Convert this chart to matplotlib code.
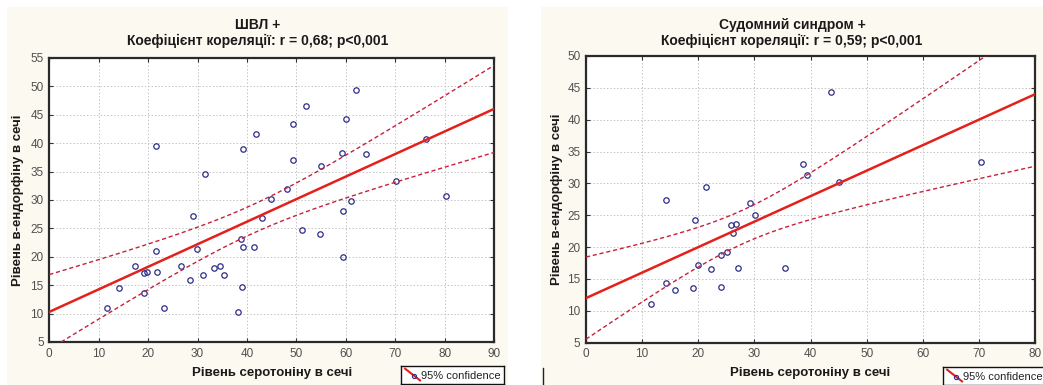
import numpy as np
import matplotlib
matplotlib.use("Agg")
import matplotlib.pyplot as plt
from matplotlib.patches import Rectangle
from matplotlib.lines import Line2D

plt.rcParams['font.family'] = ['Liberation Sans', 'DejaVu Sans']

# ШВЛ + : serotonin (x) vs beta-endorphin (y)
left_x = [21.6, 31.6, 39.3, 41.8, 49.3, 52.0, 49.3, 54.9, 60.0, 62.0, 59.3, 64.0,
          76.2, 48.2, 44.9, 80.3, 70.1, 61.0, 59.5, 51.1, 54.7, 59.5, 43.1, 29.1,
          29.8, 38.7, 39.3, 41.4, 21.6, 17.3, 19.2, 19.8, 21.8, 26.7, 28.5, 31.2,
          33.4, 34.5, 35.4, 39.1, 38.2, 14.2, 19.2, 11.6, 23.3]
left_y = [39.5, 34.5, 39.0, 41.6, 43.3, 46.6, 37.0, 36.0, 44.3, 49.4, 38.3, 38.1,
          40.7, 31.9, 30.2, 30.7, 33.4, 29.8, 28.0, 24.7, 24.1, 20.0, 26.8, 27.2,
          21.4, 23.2, 21.8, 21.8, 21.0, 18.3, 17.2, 17.3, 17.3, 18.3, 16.0, 16.8,
          18.1, 18.3, 16.8, 14.6, 10.2, 14.5, 13.6, 10.9, 10.9]

# Судомний синдром +
right_x = [43.6, 38.7, 39.3, 45.0, 70.3, 21.4, 14.3, 19.5, 29.2, 30.2, 25.8, 26.8,
           26.2, 19.9, 24.1, 25.1, 22.3, 27.0, 35.5, 14.3, 15.9, 19.1, 24.1, 11.6]
right_y = [44.4, 33.1, 31.3, 30.2, 33.3, 29.4, 27.4, 24.2, 27.0, 25.1, 23.4, 23.7,
           22.2, 17.2, 18.7, 19.3, 16.6, 16.8, 16.8, 14.3, 13.2, 13.6, 13.8, 11.0]

# regression lines as printed on the chart (intercept, slope)
left_fit = (10.3, 0.397)
right_fit = (12.0, 0.40)

titles = ["ШВЛ +\nКоефіцієнт кореляції: r = 0,68; p<0,001",
          "Судомний синдром +\nКоефіцієнт кореляції: r = 0,59; p<0,001"]
xlabel = "Рівень серотоніну в сечі"
ylabel = "Рівень в-ендорфіну в сечі"

W, H = 1043, 385
fig = plt.figure(figsize=(W / 100, H / 100), dpi=100)
fig.patch.set_facecolor('white')

def px(x0, y0, x1, y1):
    # pixel box (top-left origin) -> figure fraction rect
    return [x0 / W, 1 - y1 / H, (x1 - x0) / W, (y1 - y0) / H]

cream = '#fcf9f0'
fig.patches.append(Rectangle((7 / W, 0), 501 / W, 1 - 7 / H, transform=fig.transFigure,
                             facecolor=cream, edgecolor='none', zorder=-10))
fig.patches.append(Rectangle((541 / W, 0), 502 / W, 1 - 7 / H, transform=fig.transFigure,
                             facecolor=cream, edgecolor='none', zorder=-10))
fig.lines.append(Line2D([542.5 / W, 542.5 / W], [0, 1 - 368 / H], transform=fig.transFigure,
                        color='#222222', lw=1.0))

red = '#e3201b'
dred = '#c8203a'
navy = '#2e2e88'


def panel(rect, xs, ys, fit, xlim, ylim, yticks, t_val, title, title_cx, ylab_x, leg_rect):
    ax = fig.add_axes(px(*rect))
    ax.set_facecolor('white')
    xs = np.array(xs)
    ys = np.array(ys)
    n = len(xs)
    a, b = fit
    xx = np.linspace(xlim[0], xlim[1], 200)
    yy = a + b * xx
    resid = ys - (a + b * xs)
    s = np.sqrt(np.sum(resid ** 2) / (n - 2))
    sxx = np.sum((xs - xs.mean()) ** 2)
    half = t_val * s * np.sqrt(1 / n + (xx - xs.mean()) ** 2 / sxx)

    ax.plot(xs, ys, 'o', ms=3.9, mfc='none', mec=navy, mew=0.9, zorder=3)
    ax.plot(xx, yy, color=red, lw=1.8, zorder=4)
    ax.plot(xx, yy + half, color=dred, lw=1.0, dashes=(3, 2), zorder=4)
    ax.plot(xx, yy - half, color=dred, lw=1.0, dashes=(3, 2), zorder=4)

    ax.set_xlim(*xlim)
    ax.set_ylim(*ylim)
    ax.set_xticks(np.arange(xlim[0], xlim[1] + 1, 10))
    ax.set_yticks(yticks)
    ax.grid(True, color='#c4c4c4', linestyle=(0, (1.5, 2)), lw=0.7)
    ax.tick_params(direction='in', length=3, width=0.8, top=True, right=True,
                   labelsize=8.5, labelcolor='#505050', color='#333333', pad=4)
    for sp in ax.spines.values():
        sp.set_linewidth(1.6)
        sp.set_color('#2a2a2a')

    fig.text(title_cx / W, 1 - 33 / H, title, ha='center', va='center',
             fontsize=10, fontweight='bold', color='#1a1a1a', linespacing=1.25)
    fig.text((rect[0] + rect[2]) / 2 / W, 1 - 373 / H, xlabel, ha='center', va='center',
             fontsize=9.5, fontweight='bold', color='#1a1a1a')
    fig.text(ylab_x / W, 1 - (rect[1] + rect[3]) / 2 / H, ylabel, ha='center', va='center',
             rotation=90, fontsize=9.5, fontweight='bold', color='#1a1a1a')

    lg = fig.add_axes(px(*leg_rect))
    lg.set_xlim(0, 1)
    lg.set_ylim(0, 1)
    lg.set_xticks([])
    lg.set_yticks([])
    lg.set_facecolor('white')
    for sp in lg.spines.values():
        sp.set_linewidth(1.0)
        sp.set_color('#111111')
    lg.plot([0.04, 0.185], [0.85, 0.2], color=red, lw=1.5)
    lg.plot([0.13], [0.42], 'o', ms=3.0, mfc='none', mec=navy, mew=0.8)
    lg.text(0.195, 0.47, "95% confidence", fontsize=8, color='#222222',
            ha='left', va='center')
    return ax


panel((49.3, 58, 494, 342), left_x, left_y, left_fit, (0, 90), (5, 55), np.arange(5, 56, 5),
      2.014, titles[0], 257.5, 18, (401, 366, 504, 384))
panel((586, 56, 1035, 342.7), right_x, right_y, right_fit, (0, 80), (5, 50), np.arange(5, 51, 5),
      2.074, titles[1], 792, 557, (943, 367, 1046, 385))

fig.savefig("out.png", dpi=100)
